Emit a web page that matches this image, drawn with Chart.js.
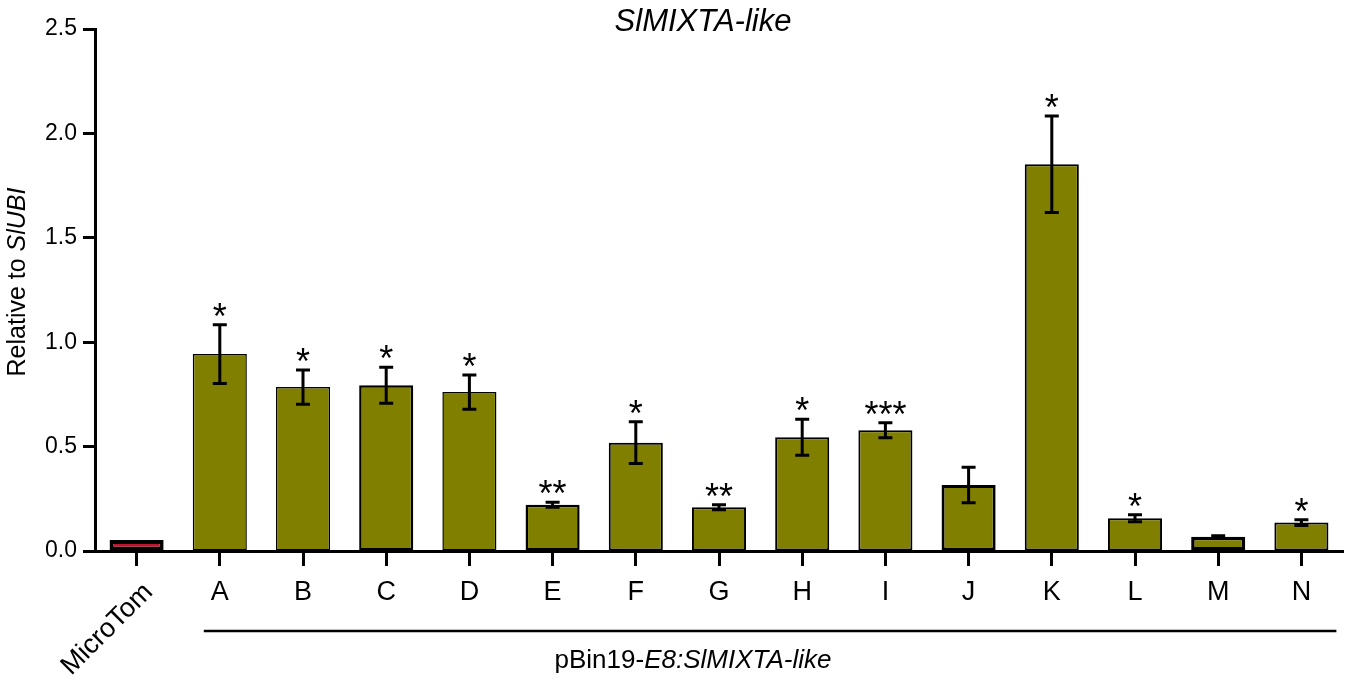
<!DOCTYPE html>
<html>
<head>
<meta charset="utf-8">
<script src="https://cdn.jsdelivr.net/npm/chart.js@4"></script>
<style>
    html, body { margin: 0; padding: 0; background: #fff; }
    #wrap { width: 1350px; height: 684px; }
</style>
</head>
<body>
<div id="wrap"><canvas id="chart"></canvas></div>
<script>
const categories = ['MicroTom', 'A', 'B', 'C', 'D', 'E', 'F', 'G', 'H', 'I', 'J', 'K', 'L', 'M', 'N'];
const means = [0.053, 0.943, 0.785, 0.794, 0.761, 0.222, 0.519, 0.209, 0.545, 0.578, 0.316, 1.852, 0.157, 0.068, 0.136];
const errors = [0, 0.141, 0.082, 0.086, 0.082, 0.012, 0.100, 0.012, 0.086, 0.036, 0.085, 0.231, 0.017, 0.005, 0.014];
const stars = ['', '*', '*', '*', '*', '**', '*', '**', '*', '***', '', '*', '*', '', '*'];
const yTicks = [0, 0.5, 1.0, 1.5, 2.0, 2.5];

const FONT = "'Liberation Sans', Arial, sans-serif";
const OLIVE = '#807f00';
const RED = '#c0122c';

// draws a run of [text, fontPrefix] pieces centred on 0,0
function drawMixed(ctx, parts, size) {
    let widths = parts.map(p => {
        ctx.font = `${p[1]}${size}px ${FONT}`;
        return ctx.measureText(p[0]).width;
    });
    let total = widths.reduce((a, b) => a + b, 0);
    let cx = -total / 2;
    ctx.textAlign = 'left';
    ctx.textBaseline = 'middle';
    parts.forEach((p, k) => {
        ctx.font = `${p[1]}${size}px ${FONT}`;
        ctx.fillText(p[0], cx, 0);
        cx += widths[k];
    });
}

// error bars + significance stars
const errorBarPlugin = {
    id: 'errorBars',
    afterDatasetsDraw(chart) {
        let ctx = chart.ctx;
        let meta = chart.getDatasetMeta(0);
        let y = chart.scales.y;
        ctx.save();
        ctx.strokeStyle = '#000';
        ctx.lineWidth = 3;
        ctx.fillStyle = '#000';
        ctx.font = `36px ${FONT}`;
        ctx.textAlign = 'center';
        ctx.textBaseline = 'alphabetic';
        for (let i = 0; i < means.length; i++) {
            let x = meta.data[i].x;
            let top = y.getPixelForValue(means[i] + errors[i]);
            let bot = y.getPixelForValue(means[i] - errors[i]);
            if (errors[i] > 0) {
                ctx.beginPath();
                ctx.moveTo(x, top);
                ctx.lineTo(x, bot);
                ctx.moveTo(x - 7, top);
                ctx.lineTo(x + 7, top);
                ctx.moveTo(x - 7, bot);
                ctx.lineTo(x + 7, bot);
                ctx.stroke();
            }
            if (stars[i]) {
                ctx.fillText(stars[i], x, top + 4);
            }
        }
        ctx.restore();
    }
};

const annotationPlugin = {
    id: 'annotations',
    afterDraw(chart) {
        let ctx = chart.ctx;
        let xs = chart.scales.x;
        ctx.save();
        ctx.fillStyle = '#000';

        // title
        ctx.font = `italic 31px ${FONT}`;
        ctx.textAlign = 'center';
        ctx.textBaseline = 'middle';
        ctx.fillText('SlMIXTA-like', 703, 22);

        // y axis title
        ctx.save();
        ctx.translate(18, 282);
        ctx.rotate(-Math.PI / 2);
        drawMixed(ctx, [['Relative to ', ''], ['SlUBI', 'italic ']], 25);
        ctx.restore();

        // rotated first label
        let x0 = xs.getPixelForValue(0);
        ctx.save();
        ctx.translate(x0 + 12, 588);
        ctx.rotate(-Math.PI / 4);
        ctx.font = `27px ${FONT}`;
        ctx.textAlign = 'right';
        ctx.textBaseline = 'middle';
        ctx.fillText(categories[0], 0, 0);
        ctx.restore();

        // group line under the transgenic lines
        let xa = xs.getPixelForValue(1);
        let xn = xs.getPixelForValue(categories.length - 1);
        ctx.strokeStyle = '#000';
        ctx.lineWidth = 2.5;
        ctx.beginPath();
        ctx.moveTo(xa - 16, 631);
        ctx.lineTo(xn + 35, 631);
        ctx.stroke();

        // group label
        ctx.save();
        ctx.translate(693, 661);
        drawMixed(ctx, [['pBin19-', ''], ['E8:SlMIXTA-like', 'italic ']], 26);
        ctx.restore();

        ctx.restore();
    }
};

new Chart(document.getElementById('chart'), {
    type: 'bar',
    data: {
        labels: categories,
        datasets: [{
            data: means,
            backgroundColor: categories.map((c, i) => i === 0 ? RED : OLIVE),
            borderColor: '#000',
            borderWidth: [4, 1.5, 1.5, 2.5, 1.5, 2.5, 2, 2, 2, 2, 3, 2, 2, 3.5, 2],
            borderSkipped: false,
            categoryPercentage: 1.0,
            barPercentage: 0.65
        }]
    },
    options: {
        responsive: true,
        maintainAspectRatio: false,
        animation: false,
        devicePixelRatio: 1,
        layout: { padding: { top: 29, right: 7, left: 0, bottom: 0 } },
        plugins: {
            legend: { display: false },
            title: { display: false },
            tooltip: { enabled: false }
        },
        scales: {
            x: {
                offset: true,
                afterFit(scale) { scale.height = 133; },
                grid: {
                    offset: false,
                    drawOnChartArea: false,
                    drawTicks: true,
                    tickLength: 15,
                    tickWidth: 3,
                    color: '#000'
                },
                border: { display: true, color: '#000', width: 3 },
                ticks: {
                    color: '#000',
                    padding: 10,
                    maxRotation: 0,
                    autoSkip: false,
                    font: { family: FONT, size: 27 },
                    callback: function (value, index) {
                        return index === 0 ? '' : categories[index];
                    }
                }
            },
            y: {
                min: 0,
                max: 2.5,
                afterFit(scale) { scale.width = 95; },
                afterBuildTicks(scale) {
                    scale.ticks = yTicks.map(v => ({ value: v }));
                },
                grid: {
                    drawOnChartArea: false,
                    drawTicks: true,
                    tickLength: 12,
                    tickWidth: 3,
                    color: '#000'
                },
                border: { display: true, color: '#000', width: 3 },
                ticks: {
                    color: '#000',
                    padding: 6,
                    font: { family: FONT, size: 23 },
                    callback: function (value) {
                        return value.toFixed(1);
                    }
                }
            }
        }
    },
    plugins: [errorBarPlugin, annotationPlugin]
});
</script>
</body>
</html>
